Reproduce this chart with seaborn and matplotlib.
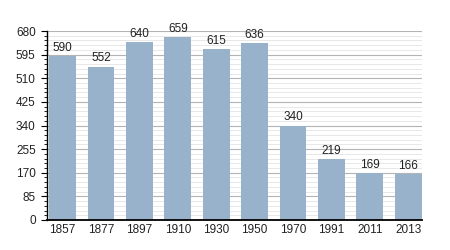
import matplotlib
matplotlib.use("Agg")
import matplotlib.pyplot as plt
import seaborn as sns
import pandas as pd
from matplotlib.ticker import MultipleLocator

years = ["1857", "1877", "1897", "1910", "1930", "1950", "1970", "1991", "2011", "2013"]
population = [590, 552, 640, 659, 615, 636, 340, 219, 169, 166]

df = pd.DataFrame({"year": years, "pop": population})

sns.set_theme(style="white")
plt.rcParams['font.family'] = ['Liberation Sans', 'DejaVu Sans']

fig = plt.figure(figsize=(4.5, 2.5), dpi=100)
ax = fig.add_axes([0.104, 0.12, 0.834, 0.756])

sns.barplot(data=df, x="year", y="pop", color="#98b2cc", saturation=1, width=0.7,
            linewidth=0, edgecolor="none", ax=ax, zorder=2)

ax.set_ylim(0, 680)
ax.set_xlim(-0.41, len(years) - 1 + 0.36)
ax.yaxis.set_major_locator(MultipleLocator(85))
ax.yaxis.set_minor_locator(MultipleLocator(17))
ax.grid(axis="y", which="major", color="#b4b4b4", linewidth=0.8, zorder=0)
ax.grid(axis="y", which="minor", color="#e4e4e4", linewidth=0.6, zorder=0)
ax.set_axisbelow(True)

for i, v in enumerate(population):
    ax.text(i, v + 8, str(v), ha="center", va="bottom", fontsize=8.5, color="#222222")

ax.set_xlabel("")
ax.set_ylabel("")
for s in ["top", "right"]:
    ax.spines[s].set_visible(False)
for s in ["left", "bottom"]:
    ax.spines[s].set_color("black")
    ax.spines[s].set_zorder(5)
ax.spines["left"].set_linewidth(1.0)
ax.spines["bottom"].set_linewidth(1.3)
ax.tick_params(axis="y", which="major", left=True, length=4, width=0.8, labelsize=8.5, pad=4, color="black")
ax.tick_params(axis="y", which="minor", left=True, length=2, width=0.6, color="black")
ax.tick_params(axis="x", bottom=False, length=0, labelsize=8.5, pad=3, labelcolor="#222222")
ax.tick_params(axis="y", labelcolor="#222222")

fig.savefig("out.png", dpi=100)
